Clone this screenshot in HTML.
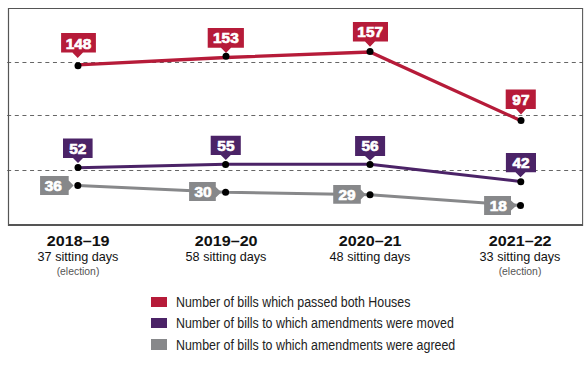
<!DOCTYPE html>
<html><head><meta charset="utf-8">
<style>
html,body{margin:0;padding:0;background:#fff;width:588px;height:365px;overflow:hidden;}
body{position:relative;font-family:"Liberation Sans",sans-serif;}
svg{position:absolute;left:0;top:0;}
.yr{position:absolute;width:120px;text-align:center;font-weight:bold;font-size:15px;color:#111;line-height:1;}
.yr span{display:inline-block;transform:scaleX(1.075);}
.sd{position:absolute;width:120px;text-align:center;font-size:13.6px;color:#111;line-height:1;transform:scaleX(0.93);}
.el{position:absolute;width:120px;text-align:center;font-size:10.4px;color:#555;line-height:1;}
.lg{position:absolute;left:176px;font-size:14px;transform:scaleX(0.886);transform-origin:0 0;color:#222;line-height:1;white-space:nowrap;}
.sw{position:absolute;left:151px;width:16px;height:10px;}
</style></head><body>
<svg width="588" height="365" viewBox="0 0 588 365">
  <!-- grid -->
  <g stroke="#666" stroke-width="1.1" stroke-dasharray="4 3.63" fill="none">
    <line x1="7.17" y1="62.5" x2="583" y2="62.5"/>
    <line x1="7.17" y1="115.5" x2="583" y2="115.5"/>
    <line x1="7.17" y1="170.5" x2="583" y2="170.5"/>
  </g>
  <!-- frame -->
  <path d="M8.5 226 V8.5 H582.6" stroke="#555" stroke-width="1.2" fill="none"/>
  <line x1="582.6" y1="7.9" x2="582.6" y2="226" stroke="#555" stroke-width="1.05"/>
  <line x1="8" y1="225" x2="583" y2="225" stroke="#555" stroke-width="2.1"/>
  <!-- lines -->
  <polyline points="78,64.85 226,57.5 370,52 521,120.7" stroke="#B61B39" stroke-width="3.3" fill="none"/>
  <polyline points="78,167.7 225.6,164.3 370,164.3 520.5,181.5" stroke="#4B2367" stroke-width="3" fill="none"/>
  <polyline points="77.7,185.4 225.6,192.3 370,194.7 520.5,205.4" stroke="#87888A" stroke-width="3" fill="none"/>
  <!-- red labels -->
  <g fill="#B61B39">
    <path d="M61.1 33.1 H95.9 V52.6 H83 L77.7 57.9 L72.4 52.6 H61.1 Z"/>
    <path d="M207.7 27.9 H243.9 V47.8 H231 L226 52.9 L221 47.8 H207.7 Z"/>
    <path d="M352.9 21.9 H388 V41.5 H375 L370 46.8 L365 41.5 H352.9 Z"/>
    <path d="M505.7 89.5 H535.8 V109.1 H526 L521 114.4 L516 109.1 H505.7 Z"/>
  </g>
  <g fill="#4B2367">
    <path d="M63 138.6 H92.6 V158 H83 L78 163 L73 158 H63 Z"/>
    <path d="M210.7 135.8 H240.8 V154.9 H230.8 L225.8 160.1 L220.8 154.9 H210.7 Z"/>
    <path d="M355.1 136.1 H385.1 V155.9 H375 L370 160.7 L365 155.9 H355.1 Z"/>
    <path d="M505.9 153 H536 V172.3 H525.5 L520.5 177.3 L515.5 172.3 H505.9 Z"/>
  </g>
  <g fill="#87888A">
    <path d="M40.07 176.07 H68.7 V180.6 L73.6 185.5 L68.7 190.6 V195.1 H40.07 Z"/>
    <path d="M189.1 182.1 H215.8 V187 L221.3 192.2 L215.8 197.4 V201 H189.1 Z"/>
    <path d="M333.2 185.1 H360.8 V189.6 L365.6 194.6 L360.8 199.6 V203.8 H333.2 Z"/>
    <path d="M484.1 196 H511 V200.4 L516.6 205.4 L511 210.4 V215.1 H484.1 Z"/>
  </g>
  <!-- dots -->
  <g fill="#000">
    <circle cx="78" cy="65.7" r="3.5"/>
    <circle cx="226" cy="56.3" r="3.5"/>
    <circle cx="370" cy="51.6" r="3.5"/>
    <circle cx="521" cy="120.5" r="3.5"/>
    <circle cx="78" cy="167.6" r="3.5"/>
    <circle cx="225.6" cy="164.4" r="3.5"/>
    <circle cx="370" cy="164.4" r="3.5"/>
    <circle cx="520.8" cy="181.7" r="3.5"/>
    <circle cx="77.8" cy="185.5" r="3.5"/>
    <circle cx="225.6" cy="192.3" r="3.5"/>
    <circle cx="370" cy="194.7" r="3.5"/>
    <circle cx="520.5" cy="205.4" r="3.5"/>
  </g>
  <!-- label text -->
  <g fill="#fff" font-family="Liberation Sans" font-weight="bold" font-size="15.4" stroke="#fff" stroke-width="0.7" text-anchor="middle">
    <text x="78.5" y="48.7">148</text>
    <text x="225.9" y="42.6">153</text>
    <text x="370.2" y="37.1">157</text>
    <text x="520.9" y="104.9">97</text>
    <text x="77.8" y="154">52</text>
    <text x="225.9" y="150.6">55</text>
    <text x="370" y="150.9">56</text>
    <text x="521" y="167.8">42</text>
    <text x="53.3" y="190.8">36</text>
    <text x="203" y="196.9">30</text>
    <text x="347" y="200">29</text>
    <text x="498.3" y="210.8">18</text>
  </g>
</svg>
<div class="yr" style="left:18px;top:232.9px;"><span>2018–19</span></div>
<div class="sd" style="left:18px;top:250.3px;">37 sitting days</div>
<div class="el" style="left:18px;top:267px;">(election)</div>
<div class="yr" style="left:166px;top:232.9px;"><span>2019–20</span></div>
<div class="sd" style="left:166px;top:250.3px;">58 sitting days</div>
<div class="yr" style="left:310px;top:232.9px;"><span>2020–21</span></div>
<div class="sd" style="left:310px;top:250.3px;">48 sitting days</div>
<div class="yr" style="left:460px;top:232.9px;"><span>2021–22</span></div>
<div class="sd" style="left:460px;top:250.3px;">33 sitting days</div>
<div class="el" style="left:460px;top:267px;">(election)</div>

<div class="sw" style="top:297px;background:#B61B39;"></div>
<div class="sw" style="top:318px;background:#4B2367;"></div>
<div class="sw" style="top:339.3px;height:10.5px;background:#87888A;"></div>
<div class="lg" style="top:295px;">Number of bills which passed both Houses</div>
<div class="lg" style="top:316px;">Number of bills to which amendments were moved</div>
<div class="lg" style="top:338px;">Number of bills to which amendments were agreed</div>
</body></html>
